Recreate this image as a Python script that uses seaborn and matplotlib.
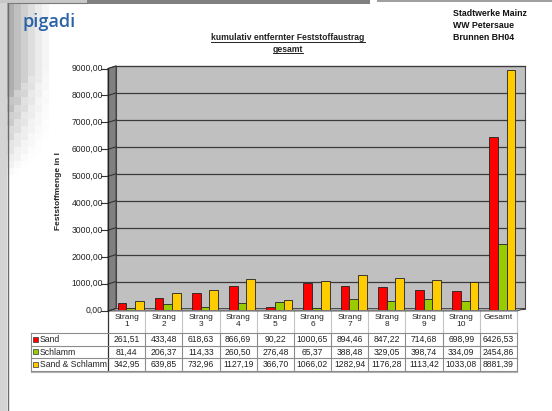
import numpy as np
import pandas as pd
import matplotlib
matplotlib.use("Agg")
import matplotlib.pyplot as plt
from matplotlib.patches import Rectangle, Polygon
from matplotlib.transforms import ScaledTranslation, blended_transform_factory
import seaborn as sns

plt.rcParams["font.family"] = ["Liberation Sans", "DejaVu Sans"]

# ---- data -------------------------------------------------------------
categories = ["Strang\n1", "Strang\n2", "Strang\n3", "Strang\n4", "Strang\n5",
              "Strang\n6", "Strang\n7", "Strang\n8", "Strang\n9", "Strang\n10",
              "Gesamt"]
series = ["Sand", "Schlamm", "Sand & Schlamm"]
sand = [261.51, 433.48, 618.63, 866.69, 90.22, 1000.65, 894.46, 847.22,
        714.68, 698.99, 6426.53]
schlamm = [81.44, 206.37, 114.33, 260.50, 276.48, 65.37, 388.48, 329.05,
           398.74, 334.09, 2454.86]
sand_schlamm = [342.95, 639.85, 732.96, 1127.19, 366.70, 1066.02, 1282.94,
                1176.28, 1113.42, 1033.08, 8881.39]
y_ticks = [0, 1000, 2000, 3000, 4000, 5000, 6000, 7000, 8000, 9000]
colors = ["#ff0000", "#99cc00", "#ffcc00"]

values = [sand, schlamm, sand_schlamm]
df = pd.DataFrame({
    "cat": [c for _ in series for c in categories],
    "series": [s for s in series for _ in categories],
    "val": [v for vals in values for v in vals],
})

def de(v):
    return f"{v:.2f}".replace(".", ",")

# ---- figure & page layer (pixel coordinates) --------------------------
W, H = 552, 411
fig = plt.figure(figsize=(W / 100, H / 100), dpi=100)
page = fig.add_axes([0, 0, 1, 1], zorder=0)
page.set_xlim(0, W)
page.set_ylim(H, 0)
page.axis("off")

# decorative shaded margin on the left
page.add_patch(Rectangle((0, 0), 7, H, color="#d4d4d4", lw=0))
base = [0.60, 0.68, 0.75, 0.81, 0.87, 0.92, 0.96, 1.0]
rows = 28
shade = np.ones((rows, len(base)))
for r in range(rows):
    yc = r * 7 + 3.5
    for c, b in enumerate(base):
        start = 95 - c * 4
        end = 185 - c * 6
        f = np.clip((end - yc) / (end - start), 0, 1)
        if c == 0:
            f = max(f, 0.55)
        if (r + c) % 2 and 0 < f < 1:
            f *= 0.8
        shade[r, c] = 1 - (1 - b) * f
page.imshow(shade, cmap="gray", vmin=0, vmax=1, extent=[0, 56, 196, 0],
            interpolation="nearest", aspect="auto", zorder=0.5)
page.plot([7.5, 7.5], [3, H], color="#6a6a6a", lw=1.0, zorder=1)
page.add_patch(Rectangle((0, 0), 87, 3, color="#c8c8c8", lw=0, zorder=1))
page.add_patch(Rectangle((87, 0), 283, 4, color="#808080", lw=0, zorder=1))
page.add_patch(Rectangle((377, 0), 175, 2.5, color="#a0a0a0", lw=0, zorder=1))
page.plot([7.5, 87], [3.5, 3.5], color="#7a7a7a", lw=0.8, zorder=1)

# header texts
page.text(23, 27, "pigadi", fontsize=13, color="#2a62a6", family="Open Sans",
          fontweight="semibold", ha="left", va="baseline")
page.text(453, 8.5, "Stadtwerke Mainz\nWW Petersaue\nBrunnen BH04",
          fontsize=6.3, fontweight="bold", ha="left", va="top",
          linespacing=1.5, color="#111111")
t1 = page.text(288, 40.5, "kumulativ entfernter Feststoffaustrag", fontsize=6.2,
               fontweight="bold", ha="center", va="baseline", color="#222222")
t2 = page.text(288, 51.5, "gesamt", fontsize=6.2, fontweight="bold",
               ha="center", va="baseline", color="#222222")
fig.canvas.draw()
rend = fig.canvas.get_renderer()
inv = page.transData.inverted()
for t, yb in [(t1, 42), (t2, 53)]:
    bb = t.get_window_extent(rend)
    (x0, _), (x1, _) = inv.transform([(bb.x0, bb.y0), (bb.x1, bb.y1)])
    page.plot([x0, x1], [yb, yb], color="#222222", lw=0.7)

# ---- chart axes (middle depth plane) ----------------------------------
left, right, y0, y1 = 112, 521, 309.75, 67.25
ax = fig.add_axes([left / W, 1 - y0 / H, (right - left) / W, (y0 - y1) / H],
                  zorder=2)
ax.set_facecolor("none")

sns.barplot(data=df, x="cat", y="val", hue="series", order=categories,
            hue_order=series, palette=colors, width=0.7, gap=0,
            edgecolor="#222222", linewidth=0.6, saturation=1,
            legend=False, errorbar=None, ax=ax, zorder=3)
ax.set_xlim(-0.5, len(categories) - 0.5)
ax.set_ylim(0, 9000)
ax.set_yticks(y_ticks)
ax.set_yticklabels([de(v) for v in y_ticks], fontsize=6.2, color="#222222")
ax.set_xticks([])
ax.tick_params(axis="y", length=0, pad=6.5)
ax.set_xlabel("")
ax.set_ylabel("")
for s in ax.spines.values():
    s.set_visible(False)

# 3-D walls: back wall shifted up/right, front plane shifted down/left
dpx, dpy = 4, 1.25
aw, ah = right - left, y0 - y1
dx, dy = dpx / aw, dpy / ah
back = ax.transAxes + ScaledTranslation(dpx / 100, dpy / 100, fig.dpi_scale_trans)
ax.add_patch(Rectangle((0, 0), 1, 1, transform=back, facecolor="#c0c0c0",
                       edgecolor="#4a4a4a", lw=0.8, zorder=0, clip_on=False))
ax.add_patch(Polygon([(-dx, -dy), (dx, dy), (dx, 1 + dy), (-dx, 1 - dy)],
                     closed=True, transform=ax.transAxes, facecolor="#808080",
                     edgecolor="#3a3a3a", lw=0.6, zorder=0.6, clip_on=False))
ax.add_patch(Polygon([(-dx, -dy), (1 - dx, -dy), (1 + dx, dy), (dx, dy)],
                     closed=True, transform=ax.transAxes, facecolor="#a8a8a8",
                     edgecolor="#3a3a3a", lw=0.6, zorder=0.6, clip_on=False))
grid_tr = blended_transform_factory(ax.transAxes, ax.transData) + \
    ScaledTranslation(dpx / 100, dpy / 100, fig.dpi_scale_trans)
for v in y_ticks[1:]:
    ax.plot([0, 1], [v, v], transform=grid_tr, color="#3a3a3a", lw=0.9,
            zorder=0.5, clip_on=False)
for v in y_ticks:
    f = v / 9000
    ax.plot([-dx, dx], [f - dy, f + dy], transform=ax.transAxes,
            color="#333333", lw=0.8, zorder=0.7, clip_on=False)
    ax.plot([-dx - 7 / aw, -dx], [f - dy, f - dy], transform=ax.transAxes,
            color="#333333", lw=0.8, zorder=0.7, clip_on=False)
ax.plot([-dx, -dx], [-dy, 1 - dy], transform=ax.transAxes, color="#222222",
        lw=0.9, zorder=0.8, clip_on=False)

fig.text(59 / W, 1 - 191 / H, "Feststoffmenge in l", rotation=90,
         fontsize=6, fontweight="bold", ha="center", va="center",
         color="#222222")

# ---- data table under the chart ---------------------------------------
tx0, cx0, tx1 = 31, 108, 517
cw = (tx1 - cx0) / len(categories)
hy0, hy1 = 311, 333
row_y = [333, 345.5, 358, 370.5]
light, mid = "#c4c4c4", "#8c8c8c"
for i in range(1, len(categories) + 1):
    page.plot([cx0 + i * cw] * 2, [hy0, hy1], color=light, lw=0.8)
page.plot([cx0, cx0], [hy0, row_y[-1]], color="#333333", lw=0.9)
for y in row_y:
    page.plot([tx0, tx1], [y, y], color=mid, lw=0.8)
page.plot([tx0, tx1], [row_y[-1] + 1, row_y[-1] + 1], color="#b0b0b0", lw=0.8)
for x in [tx0] + [cx0 + i * cw for i in range(1, len(categories) + 1)]:
    page.plot([x, x], [row_y[0], row_y[-1]], color=mid, lw=0.8)

for i, c in enumerate(categories):
    page.text(cx0 + (i + 0.5) * cw, 314, c, fontsize=6, ha="center", va="top",
              linespacing=1.05, color="#222222")
for r, (name, vals, col) in enumerate(zip(series, values, colors)):
    yc = (row_y[r] + row_y[r + 1]) / 2
    page.add_patch(Rectangle((33, yc - 2.5), 5, 5, facecolor=col,
                             edgecolor="#333333", lw=0.5))
    page.text(40, yc + 0.3, name, fontsize=6.2, ha="left", va="center",
              color="#222222")
    for i, v in enumerate(vals):
        page.text(cx0 + (i + 0.5) * cw, yc + 0.3, de(v), fontsize=6.2,
                  ha="center", va="center", color="#222222")

fig.savefig("out.png", dpi=100)
